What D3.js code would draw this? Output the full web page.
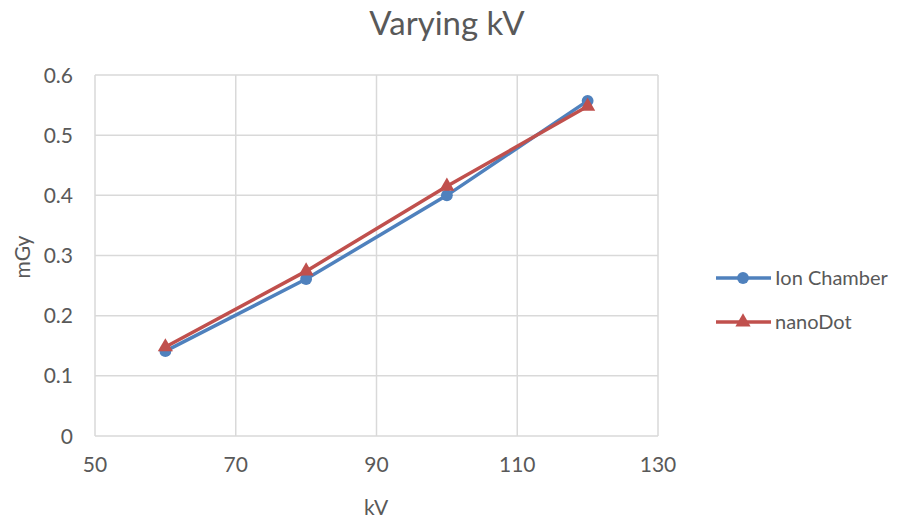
<!DOCTYPE html>
<meta charset="utf-8">
<style>
body{margin:0;background:#fff;font-family:Lato, "Open Sans", sans-serif;}
text{fill:#595959;}
</style>
<body>
<div id="container"></div>
<script src="https://d3js.org/d3.v7.min.js"></script>
<script>

var kv = [60, 80, 100, 120];
var ionChamber = [0.141, 0.261, 0.400, 0.557];
var nanoDot = [0.148, 0.274, 0.415, 0.548];
var xTicks = [50, 70, 90, 110, 130];
var yTicks = [0, 0.1, 0.2, 0.3, 0.4, 0.5, 0.6];

var width = 905, height = 520;
var plotLeft = 95, plotRight = 658, plotTop = 75, plotBottom = 436;

var svg = d3.select("#container").append("svg")
    .attr("width", width)
    .attr("height", height);

var x = d3.scaleLinear().domain([50, 130]).range([plotLeft, plotRight]);
var y = d3.scaleLinear().domain([0, 0.6]).range([plotBottom, plotTop]);

// grid
svg.append("g").selectAll("line").data(yTicks).enter().append("line")
    .attr("x1", plotLeft).attr("x2", plotRight)
    .attr("y1", function(d){ return y(d); }).attr("y2", function(d){ return y(d); })
    .style("stroke", "#d9d9d9").style("stroke-width", 1.5);
svg.append("g").selectAll("line").data(xTicks).enter().append("line")
    .attr("y1", plotTop).attr("y2", plotBottom)
    .attr("x1", function(d){ return x(d); }).attr("x2", function(d){ return x(d); })
    .style("stroke", "#d9d9d9").style("stroke-width", 1.5);

// tick labels
svg.append("g").selectAll("text").data(yTicks).enter().append("text")
    .attr("x", 73).attr("y", function(d){ return y(d); })
    .attr("dy", "0.36em")
    .attr("text-anchor", "end")
    .style("font-size", "21px")
    .text(function(d){ return d3.format("")(d); });
svg.append("g").selectAll("text").data(xTicks).enter().append("text")
    .attr("x", function(d){ return x(d); }).attr("y", 472)
    .attr("text-anchor", "middle")
    .style("font-size", "21px")
    .text(function(d){ return d; });

// titles
svg.append("text").attr("x", 447).attr("y", 35)
    .attr("text-anchor", "middle")
    .style("font-size", "33px")
    .text("Varying kV");
svg.append("text").attr("x", 376).attr("y", 515)
    .attr("text-anchor", "middle")
    .style("font-size", "21px")
    .text("kV");
svg.append("text")
    .attr("transform", "translate(30,257) rotate(-90)")
    .attr("text-anchor", "middle")
    .style("font-size", "21px")
    .text("mGy");

var series = [
  {name: "Ion Chamber", values: ionChamber, color: "#4F81BD", marker: d3.symbolCircle, size: 110},
  {name: "nanoDot", values: nanoDot, color: "#C0504D", marker: d3.symbolTriangle, size: 100}
];

var line = d3.line()
    .x(function(d){ return x(d[0]); })
    .y(function(d){ return y(d[1]); });

series.forEach(function(s, i) {
  var pts = kv.map(function(k, j){ return [k, s.values[j]]; });
  svg.append("path")
      .attr("d", line(pts))
      .style("fill", "none")
      .style("stroke", s.color)
      .style("stroke-width", 3.5);
  svg.append("g").selectAll("path").data(pts).enter().append("path")
      .attr("d", d3.symbol().type(s.marker).size(s.size))
      .attr("transform", function(d){ return "translate(" + x(d[0]) + "," + y(d[1]) + ")"; })
      .style("fill", s.color);

  // legend
  var ly = 278 + i * 44;
  svg.append("line")
      .attr("x1", 716).attr("x2", 771).attr("y1", ly).attr("y2", ly)
      .style("stroke", s.color).style("stroke-width", 3.5);
  svg.append("path")
      .attr("d", d3.symbol().type(s.marker).size(s.size))
      .attr("transform", "translate(743," + ly + ")")
      .style("fill", s.color);
  svg.append("text")
      .attr("x", 775).attr("y", ly).attr("dy", "0.36em")
      .style("font-size", "20px")
      .text(s.name);
});

</script>
</body>
</html>
